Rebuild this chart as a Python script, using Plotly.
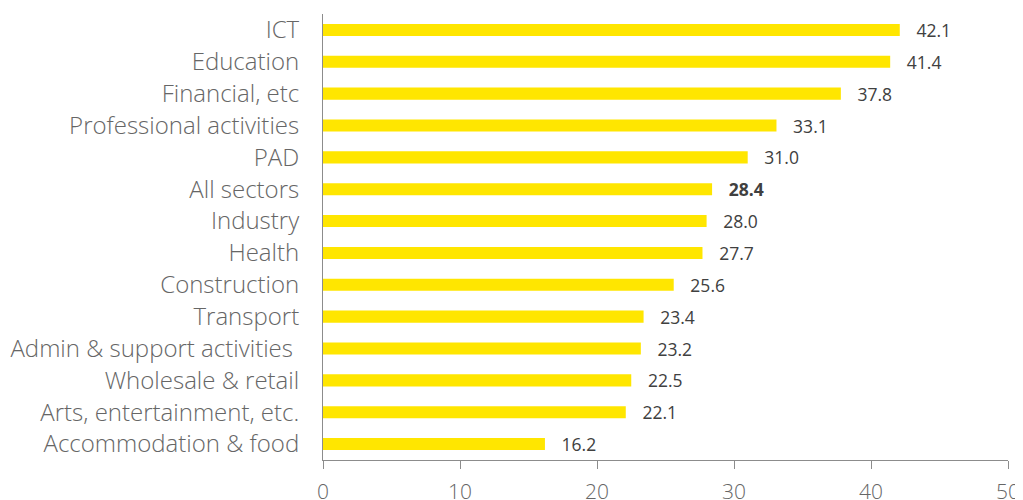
import plotly.graph_objects as go

sectors = [
    "ICT", "Education", "Financial, etc", "Professional activities", "PAD",
    "All sectors", "Industry", "Health", "Construction", "Transport",
    "Admin & support activities ", "Wholesale & retail",
    "Arts, entertainment, etc.", "Accommodation & food",
]
values = [42.1, 41.4, 37.8, 33.1, 31.0, 28.4, 28.0, 27.7, 25.6, 23.4, 23.2, 22.5, 22.1, 16.2]
x_ticks = [0, 10, 20, 30, 40, 50]

YELLOW = "#FFE600"
GREY = "#666666"
DARK = "#404040"
FONT = "Open Sans, sans-serif"

# "All sectors" total is shown in bold
labels = [
    f"   <b>{v:.1f}</b>" if s == "All sectors" else f"   {v:.1f}"
    for s, v in zip(sectors, values)
]

fig = go.Figure(
    go.Bar(
        x=values,
        y=sectors,
        orientation="h",
        marker=dict(color=YELLOW, line_width=0),
        width=0.38,
        text=labels,
        textposition="outside",
        constraintext="none",
        cliponaxis=False,
        textfont=dict(family=FONT, size=17.5, color=DARK),
    )
)

# page body adds an 8px offset, so margins are shifted to compensate
fig.update_layout(
    width=1023,
    height=500,
    paper_bgcolor="white",
    plot_bgcolor="white",
    font=dict(family=FONT, color=GREY, size=21),
    margin=dict(l=315, r=23, t=6, b=48),
    showlegend=False,
)
fig.update_xaxes(
    range=[0, 50],
    tickvals=x_ticks,
    automargin=False,
    showgrid=False,
    zeroline=False,
    showline=True,
    linecolor="#8c8c8c",
    linewidth=1,
    ticks="outside",
    ticklen=8,
    tickcolor="#8c8c8c",
    tickfont=dict(family=FONT, size=21, color=GREY, weight=300),
    ticklabelstandoff=5,
)
fig.update_yaxes(
    autorange="reversed",
    automargin=False,
    showgrid=False,
    showline=True,
    linecolor="#8c8c8c",
    linewidth=1,
    ticks="",
    ticklabelstandoff=18,
    tickfont=dict(family=FONT, size=24, color=GREY, weight=300),
)

fig.write_html("out.html")
